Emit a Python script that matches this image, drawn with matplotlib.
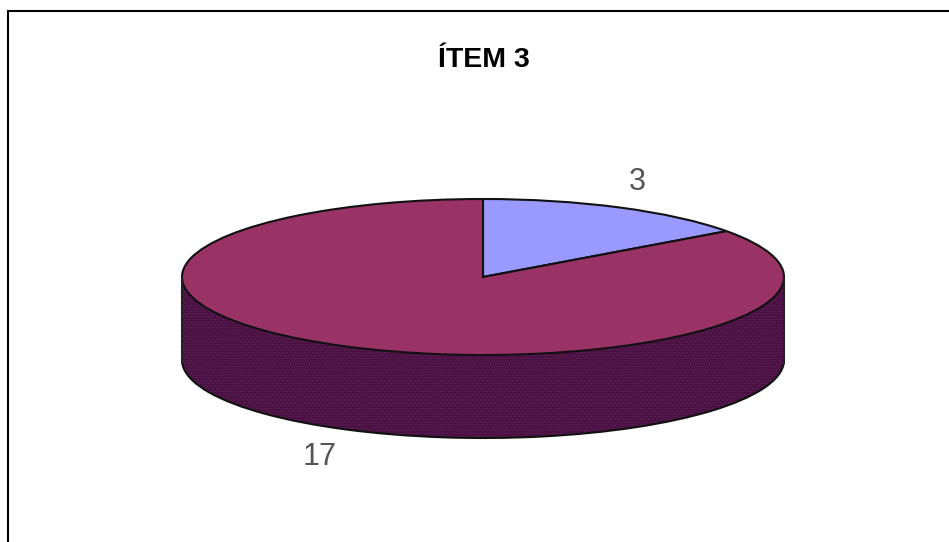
# Gráfico de pizza 3D - ITEM 3
import numpy as np
import matplotlib.pyplot as plt
from matplotlib.lines import Line2D
from matplotlib.patches import Rectangle

plt.rcParams["font.family"] = ["Liberation Sans", "DejaVu Sans"]
plt.rcParams["hatch.linewidth"] = 0.6

titulo = "ÍTEM 3"
valores = [3, 17]
rotulos = ["3", "17"]
cores = ["#9999FF", "#993366"]

W, H = 949, 542
cx, cy = 483, 277
rx, ry = 301, 78
prof = 83 / ry
folga = 0.05  # esconde os raios da pizza de baixo

fig = plt.figure(figsize=(W / 100, H / 100), dpi=100, facecolor="white")
ax = fig.add_axes([0, 0, 1, 1])

# lateral: varias pizzas escuras empilhadas
for d in np.linspace(prof, 0, 40):
    ax.pie(valores, startangle=90, counterclock=False, center=(0, -d),
           colors=["#4A0F42", "#4A0F42"], frame=False)

# textura da lateral
xs = np.linspace(-1, 1, 400)
ax.fill_between(xs, -prof - np.sqrt(1 - xs**2), 0,
                facecolor="none", edgecolor="#5E2A58", hatch="......", linewidth=0)

# contorno da lateral (so o arco da frente)
base, _ = ax.pie(valores, startangle=90, counterclock=False, center=(0, -prof),
                 colors=["none", "none"],
                 wedgeprops={"edgecolor": "#111111", "linewidth": 1.5}, frame=False)
corte = Rectangle((-1.1, -prof - 1.2), 2.2, 1.2 - folga, transform=ax.transData)
for w in base:
    w.set_clip_on(True)  # pie desliga o clip por padrao
    w.set_clip_path(corte)
ax.vlines([-1, 1], -prof - folga, 0, color="#222222", linewidth=1.5)

# tampo
ax.pie(valores, startangle=90, counterclock=False, colors=cores,
       wedgeprops={"edgecolor": "#111111", "linewidth": 1.5}, frame=False)

# pixels -> unidades do raio
ax.set_aspect("auto")
ax.set_xlim(-cx / rx, (W - cx) / rx)
ax.set_ylim((cy - H) / ry, cy / ry)
ax.axis("off")

fig.text(484 / W, 1 - 60 / H, titulo, ha="center", va="center",
         fontsize=20.5, fontweight="bold", color="black")
fig.text(637 / W, 1 - 182 / H, rotulos[0], ha="center", va="center",
         fontsize=22, color="#555555")
fig.text(320 / W, 1 - 457 / H, rotulos[1], ha="center", va="center",
         fontsize=22, color="#555555")

# moldura (so esquerda e topo aparecem)
fig.add_artist(Line2D([8 / W, 8 / W, 1], [0, 1 - 11 / H, 1 - 11 / H],
                      color="black", linewidth=1.5, solid_joinstyle="miter"))

fig.savefig("out.png", dpi=100, facecolor="white")
